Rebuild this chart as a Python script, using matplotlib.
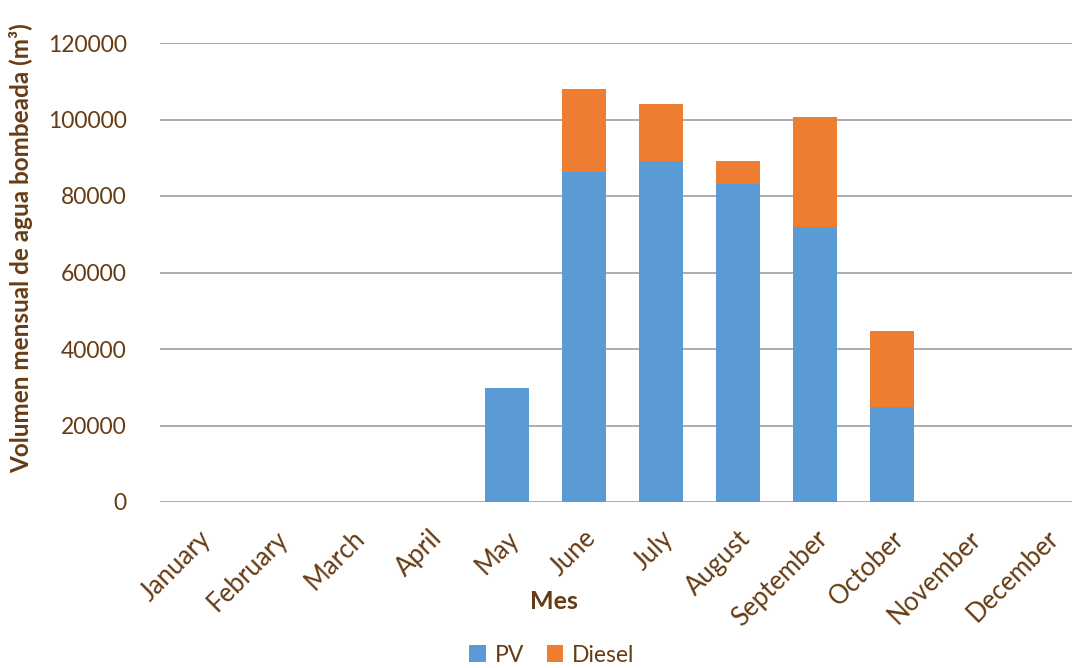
import numpy as np
import matplotlib.pyplot as plt

months = ['January', 'February', 'March', 'April', 'May', 'June',
          'July', 'August', 'September', 'October', 'November', 'December']
pv = [0, 0, 0, 0, 29700, 86400, 89200, 83200, 71900, 24900, 0, 0]
diesel = [0, 0, 0, 0, 0, 21600, 14800, 6000, 28800, 19700, 0, 0]

brown = '#663c14'
plt.rcParams['font.family'] = ['Lato', 'DejaVu Sans']

fig = plt.figure(figsize=(10.72, 6.68), dpi=100)
ax = fig.add_axes([160 / 1072, 166 / 668, 912 / 1072, 459 / 668])

x = np.arange(len(months))
ax.bar(x, pv, width=0.57, color='#5b9bd5', label='PV', zorder=3)
ax.bar(x, diesel, width=0.57, bottom=pv, color='#ed7d31', label='Diesel', zorder=3)

ax.set_xlim(-0.5, 11.34)
ax.set_ylim(0, 120000)
ax.set_yticks(np.arange(0, 120001, 20000))
ax.yaxis.grid(True, color='#a6a6a6', linewidth=1.3, zorder=0)
ax.set_axisbelow(True)
for s in ax.spines.values():
    s.set_visible(False)
ax.tick_params(length=0, labelsize=16.5, labelcolor=brown)
ax.tick_params(axis='y', pad=24)

ax.set_xticks(x)
ax.set_xticklabels(months, rotation=45, ha='right', va='top',
                   rotation_mode='anchor', fontsize=18.5)
ax.tick_params(axis='x', pad=17)

ax.set_xlabel('Mes', fontsize=18, fontweight='bold', color=brown)
ax.xaxis.set_label_coords(0.432, -0.192)
ax.set_ylabel('Volumen mensual de agua bombeada (m³)', fontsize=17.5,
              fontweight='bold', color=brown)
ax.yaxis.set_label_coords(-0.139, 0.553)

leg = fig.legend(loc='center', bbox_to_anchor=(552 / 1072, 1 - 655 / 668), ncol=2,
                 frameon=False, fontsize=16.5, handlelength=0.7, handleheight=0.7,
                 handletextpad=0.4, columnspacing=1.0)
for t in leg.get_texts():
    t.set_color(brown)

fig.savefig('out.png', dpi=100)
